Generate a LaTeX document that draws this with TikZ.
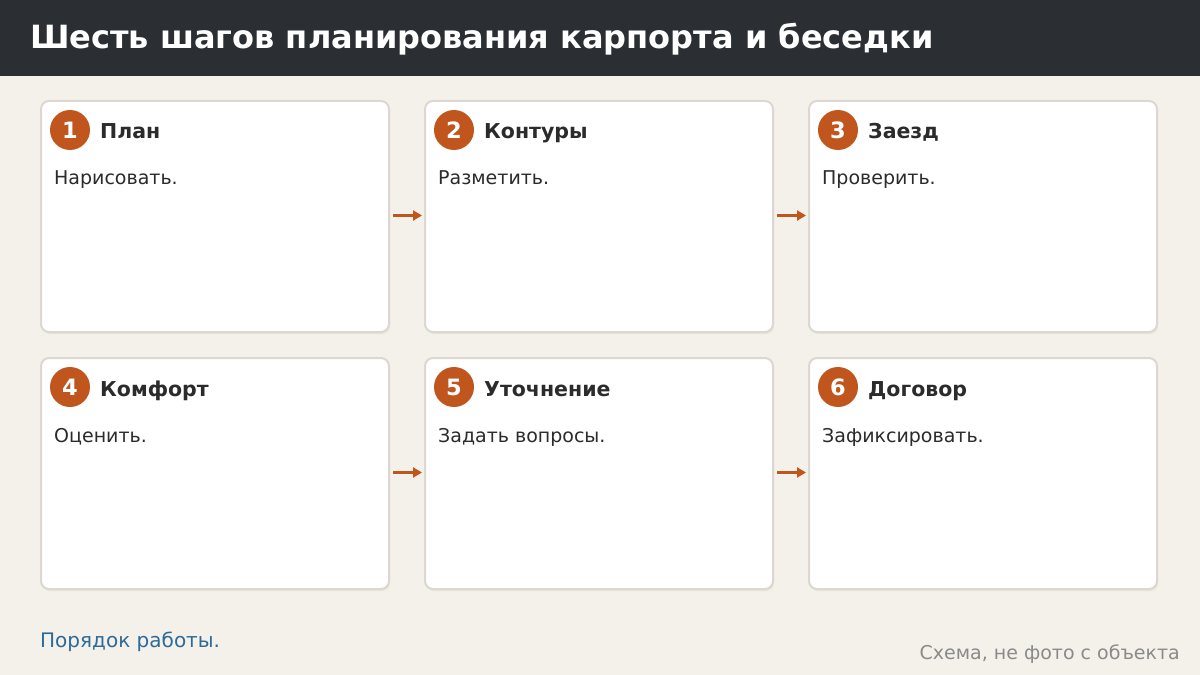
\documentclass[tikz,border=0pt]{standalone}
\usepackage{fontspec}
\setmainfont{DejaVu Sans}
\usetikzlibrary{arrows.meta}
\definecolor{bg}{HTML}{F4F1EB}
\definecolor{head}{HTML}{2B2E33}
\definecolor{accent}{HTML}{C0561E}
\definecolor{bord}{HTML}{DDD8CF}
\definecolor{txt}{HTML}{2B2B2B}
\definecolor{link}{HTML}{2E6A96}
\definecolor{note}{HTML}{8A8A8A}
\tikzset{
  card/.style={draw=bord, line width=2bp, fill=white, rounded corners=8bp},
  badge/.style={circle, fill=accent, minimum size=40bp, inner sep=0pt},
  badgenum/.style={anchor=base, inner sep=0pt, text=white, font=\fontsize{22.5bp}{26bp}\selectfont\bfseries},
  cardtitle/.style={anchor=base west, inner sep=0pt, text=txt, font=\fontsize{20.5bp}{24bp}\selectfont\bfseries},
  cardbody/.style={anchor=base west, inner sep=0pt, text=txt, font=\fontsize{19bp}{22bp}\selectfont},
  flow/.style={draw=accent, line width=3.5bp, -{Triangle[length=9bp,width=10bp]}}
}
\begin{document}
\begin{tikzpicture}[x=1bp,y=-1bp]
\useasboundingbox (0,0) rectangle (1200,675);
\fill[bg] (0,0) rectangle (1200,675);
\fill[head] (0,0) rectangle (1200,76);
\node[anchor=base west, inner sep=0pt, text=white, font=\fontsize{32bp}{36bp}\selectfont\bfseries] (title) at (30,49) {Шесть шагов планирования карпорта и беседки};
% cards
\foreach \i/\x/\y/\t/\b in {1/41/101/План/Нарисовать., 2/425/101/Контуры/Разметить., 3/809/101/Заезд/Проверить., 4/41/358/Комфорт/Оценить., 5/425/358/Уточнение/Задать вопросы., 6/809/358/Договор/Зафиксировать.}{
  \fill[bord!70, rounded corners=8bp] (\x+1,\y+2) rectangle (\x+349,\y+233);
  \draw[card] (\x,\y) rectangle (\x+348,\y+231);
  \node[badge] (n\i) at (\x+29,\y+29) {};
  \node[badgenum] (d\i) at (\x+29,\y+37.5) {\i};
  \node[cardtitle] (t\i) at (\x+59,\y+38) {\t};
  \node[cardbody] (b\i) at (\x+13,\y+84) {\b};
}
\coordinate (a1s) at (393,215.5); \coordinate (a1e) at (422,215.5);
\coordinate (a2s) at (777,215.5); \coordinate (a2e) at (806,215.5);
\coordinate (a3s) at (393,472.5); \coordinate (a3e) at (422,472.5);
\coordinate (a4s) at (777,472.5); \coordinate (a4e) at (806,472.5);
\draw[flow] (a1s) -- (a1e);
\draw[flow] (a2s) -- (a2e);
\draw[flow] (a3s) -- (a3e);
\draw[flow] (a4s) -- (a4e);
\node[anchor=base west, inner sep=0pt, text=link, font=\fontsize{20bp}{24bp}\selectfont] (foot) at (40,647) {Порядок работы.};
\node[anchor=base east, inner sep=0pt, text=note, font=\fontsize{19bp}{22bp}\selectfont] (src) at (1180,659) {Схема, не фото с объекта};
\end{tikzpicture}
\end{document}
